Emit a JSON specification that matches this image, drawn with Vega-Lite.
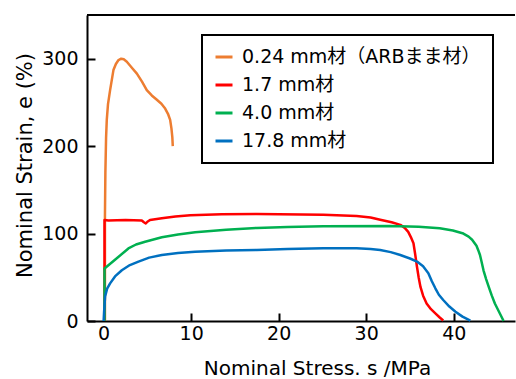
{
  "$schema": "https://vega.github.io/schema/vega-lite/v6.json",
  "width": 428,
  "height": 306,
  "autosize": {"type": "none"},
  "padding": {"left": 87, "top": 15, "right": 1, "bottom": 58},
  "config": {
    "view": {"stroke": null},
    "font": "DejaVu Sans, Noto Sans CJK JP",
    "legend": {"strokeWidth": 2}
  },
  "datasets": {
    "curves": [
      {"series": "0.24 mm材（ARBまま材）", "i": 1, "s": 0.15, "e": 0},
      {"series": "0.24 mm材（ARBまま材）", "i": 2, "s": 0.15, "e": 120},
      {"series": "0.24 mm材（ARBまま材）", "i": 3, "s": 0.2, "e": 170},
      {"series": "0.24 mm材（ARBまま材）", "i": 4, "s": 0.28, "e": 210},
      {"series": "0.24 mm材（ARBまま材）", "i": 5, "s": 0.36, "e": 230},
      {"series": "0.24 mm材（ARBまま材）", "i": 6, "s": 0.5, "e": 248},
      {"series": "0.24 mm材（ARBまま材）", "i": 7, "s": 0.74, "e": 264},
      {"series": "0.24 mm材（ARBまま材）", "i": 8, "s": 1.12, "e": 287},
      {"series": "0.24 mm材（ARBまま材）", "i": 9, "s": 1.4, "e": 294},
      {"series": "0.24 mm材（ARBまま材）", "i": 10, "s": 1.7, "e": 298.5},
      {"series": "0.24 mm材（ARBまま材）", "i": 11, "s": 2.0, "e": 300},
      {"series": "0.24 mm材（ARBまま材）", "i": 12, "s": 2.3, "e": 299.3},
      {"series": "0.24 mm材（ARBまま材）", "i": 13, "s": 2.65, "e": 296.5},
      {"series": "0.24 mm材（ARBまま材）", "i": 14, "s": 3.2, "e": 290},
      {"series": "0.24 mm材（ARBまま材）", "i": 15, "s": 3.8, "e": 283},
      {"series": "0.24 mm材（ARBまま材）", "i": 16, "s": 4.4, "e": 273.5},
      {"series": "0.24 mm材（ARBまま材）", "i": 17, "s": 4.93, "e": 264},
      {"series": "0.24 mm材（ARBまま材）", "i": 18, "s": 5.5, "e": 258},
      {"series": "0.24 mm材（ARBまま材）", "i": 19, "s": 6.08, "e": 253},
      {"series": "0.24 mm材（ARBまま材）", "i": 20, "s": 6.6, "e": 248.5},
      {"series": "0.24 mm材（ARBまま材）", "i": 21, "s": 7.03, "e": 243},
      {"series": "0.24 mm材（ARBまま材）", "i": 22, "s": 7.35, "e": 237},
      {"series": "0.24 mm材（ARBまま材）", "i": 23, "s": 7.6, "e": 230},
      {"series": "0.24 mm材（ARBまま材）", "i": 24, "s": 7.75, "e": 220},
      {"series": "0.24 mm材（ARBまま材）", "i": 25, "s": 7.85, "e": 210},
      {"series": "0.24 mm材（ARBまま材）", "i": 26, "s": 7.9, "e": 200},

      {"series": "1.7 mm材", "i": 1, "s": 0.1, "e": 0},
      {"series": "1.7 mm材", "i": 2, "s": 0.1, "e": 115.5},
      {"series": "1.7 mm材", "i": 3, "s": 0.55, "e": 115},
      {"series": "1.7 mm材", "i": 4, "s": 2.5, "e": 115.5},
      {"series": "1.7 mm材", "i": 5, "s": 4.36, "e": 115},
      {"series": "1.7 mm材", "i": 6, "s": 4.6, "e": 113},
      {"series": "1.7 mm材", "i": 7, "s": 4.82, "e": 111.5},
      {"series": "1.7 mm材", "i": 8, "s": 5.0, "e": 113.5},
      {"series": "1.7 mm材", "i": 9, "s": 5.3, "e": 115.5},
      {"series": "1.7 mm材", "i": 10, "s": 6.65, "e": 117.5},
      {"series": "1.7 mm材", "i": 11, "s": 8.2, "e": 119.5},
      {"series": "1.7 mm材", "i": 12, "s": 9.9, "e": 121},
      {"series": "1.7 mm材", "i": 13, "s": 13.5, "e": 122.2},
      {"series": "1.7 mm材", "i": 14, "s": 17.5, "e": 122.4},
      {"series": "1.7 mm材", "i": 15, "s": 25.1, "e": 121.6},
      {"series": "1.7 mm材", "i": 16, "s": 28.9, "e": 120},
      {"series": "1.7 mm材", "i": 17, "s": 30.5, "e": 118.3},
      {"series": "1.7 mm材", "i": 18, "s": 31.6, "e": 115.8},
      {"series": "1.7 mm材", "i": 19, "s": 32.9, "e": 113},
      {"series": "1.7 mm材", "i": 20, "s": 33.9, "e": 110},
      {"series": "1.7 mm材", "i": 21, "s": 34.4, "e": 106.5},
      {"series": "1.7 mm材", "i": 22, "s": 34.8, "e": 102},
      {"series": "1.7 mm材", "i": 23, "s": 35.1, "e": 96},
      {"series": "1.7 mm材", "i": 24, "s": 35.4, "e": 89},
      {"series": "1.7 mm材", "i": 25, "s": 35.6, "e": 76},
      {"series": "1.7 mm材", "i": 26, "s": 35.8, "e": 62},
      {"series": "1.7 mm材", "i": 27, "s": 36.0, "e": 49.5},
      {"series": "1.7 mm材", "i": 28, "s": 36.2, "e": 39},
      {"series": "1.7 mm材", "i": 29, "s": 36.5, "e": 29},
      {"series": "1.7 mm材", "i": 30, "s": 36.9, "e": 20},
      {"series": "1.7 mm材", "i": 31, "s": 37.4, "e": 13.5},
      {"series": "1.7 mm材", "i": 32, "s": 37.9, "e": 8.8},
      {"series": "1.7 mm材", "i": 33, "s": 38.4, "e": 4},
      {"series": "1.7 mm材", "i": 34, "s": 38.8, "e": 0.5},

      {"series": "4.0 mm材", "i": 1, "s": 0.1, "e": 0},
      {"series": "4.0 mm材", "i": 2, "s": 0.1, "e": 60},
      {"series": "4.0 mm材", "i": 3, "s": 1.3, "e": 70},
      {"series": "4.0 mm材", "i": 4, "s": 2.83, "e": 83},
      {"series": "4.0 mm材", "i": 5, "s": 3.7, "e": 87.5},
      {"series": "4.0 mm材", "i": 6, "s": 4.74, "e": 90.7},
      {"series": "4.0 mm材", "i": 7, "s": 6.65, "e": 95.7},
      {"series": "4.0 mm材", "i": 8, "s": 8.5, "e": 99},
      {"series": "4.0 mm材", "i": 9, "s": 10.45, "e": 101.4},
      {"series": "4.0 mm材", "i": 10, "s": 14, "e": 104.3},
      {"series": "4.0 mm材", "i": 11, "s": 17.5, "e": 106.5},
      {"series": "4.0 mm材", "i": 12, "s": 21, "e": 107.6},
      {"series": "4.0 mm材", "i": 13, "s": 25.1, "e": 108.3},
      {"series": "4.0 mm材", "i": 14, "s": 32.7, "e": 108.6},
      {"series": "4.0 mm材", "i": 15, "s": 36, "e": 107.8},
      {"series": "4.0 mm材", "i": 16, "s": 38.4, "e": 106},
      {"series": "4.0 mm材", "i": 17, "s": 39.9, "e": 103.5},
      {"series": "4.0 mm材", "i": 18, "s": 41.1, "e": 100},
      {"series": "4.0 mm材", "i": 19, "s": 41.7, "e": 96.5},
      {"series": "4.0 mm材", "i": 20, "s": 42.1, "e": 93},
      {"series": "4.0 mm材", "i": 21, "s": 42.6, "e": 86},
      {"series": "4.0 mm材", "i": 22, "s": 42.8, "e": 81},
      {"series": "4.0 mm材", "i": 23, "s": 43.0, "e": 75.5},
      {"series": "4.0 mm材", "i": 24, "s": 43.2, "e": 67},
      {"series": "4.0 mm材", "i": 25, "s": 43.4, "e": 58},
      {"series": "4.0 mm材", "i": 26, "s": 43.7, "e": 48},
      {"series": "4.0 mm材", "i": 27, "s": 44.0, "e": 39},
      {"series": "4.0 mm材", "i": 28, "s": 44.35, "e": 29},
      {"series": "4.0 mm材", "i": 29, "s": 44.7, "e": 20},
      {"series": "4.0 mm材", "i": 30, "s": 45.2, "e": 10},
      {"series": "4.0 mm材", "i": 31, "s": 45.7, "e": 0},

      {"series": "17.8 mm材", "i": 1, "s": 0.0, "e": 0},
      {"series": "17.8 mm材", "i": 2, "s": 0.05, "e": 10},
      {"series": "17.8 mm材", "i": 3, "s": 0.17, "e": 28},
      {"series": "17.8 mm材", "i": 4, "s": 0.4, "e": 37},
      {"series": "17.8 mm材", "i": 5, "s": 0.74, "e": 43},
      {"series": "17.8 mm材", "i": 6, "s": 1.3, "e": 51},
      {"series": "17.8 mm材", "i": 7, "s": 2.08, "e": 58},
      {"series": "17.8 mm材", "i": 8, "s": 3.0, "e": 64},
      {"series": "17.8 mm材", "i": 9, "s": 3.98, "e": 68},
      {"series": "17.8 mm材", "i": 10, "s": 5.2, "e": 72.5},
      {"series": "17.8 mm材", "i": 11, "s": 6.65, "e": 75.5},
      {"series": "17.8 mm材", "i": 12, "s": 8.5, "e": 77.8},
      {"series": "17.8 mm材", "i": 13, "s": 10.45, "e": 79.3},
      {"series": "17.8 mm材", "i": 14, "s": 14, "e": 80.5},
      {"series": "17.8 mm材", "i": 15, "s": 17.5, "e": 81.2},
      {"series": "17.8 mm材", "i": 16, "s": 21, "e": 82.4},
      {"series": "17.8 mm材", "i": 17, "s": 25.1, "e": 83.2},
      {"series": "17.8 mm材", "i": 18, "s": 28.9, "e": 83.2},
      {"series": "17.8 mm材", "i": 19, "s": 30.5, "e": 82.3},
      {"series": "17.8 mm材", "i": 20, "s": 31.6, "e": 81.2},
      {"series": "17.8 mm材", "i": 21, "s": 32.8, "e": 78.8},
      {"series": "17.8 mm材", "i": 22, "s": 33.9, "e": 75.5},
      {"series": "17.8 mm材", "i": 23, "s": 35.0, "e": 71.5},
      {"series": "17.8 mm材", "i": 24, "s": 35.8, "e": 68},
      {"series": "17.8 mm材", "i": 25, "s": 36.5, "e": 62.5},
      {"series": "17.8 mm材", "i": 26, "s": 37.1, "e": 54.6},
      {"series": "17.8 mm材", "i": 27, "s": 37.5, "e": 45.5},
      {"series": "17.8 mm材", "i": 28, "s": 37.9, "e": 37.4},
      {"series": "17.8 mm材", "i": 29, "s": 38.3, "e": 30},
      {"series": "17.8 mm材", "i": 30, "s": 38.8, "e": 24},
      {"series": "17.8 mm材", "i": 31, "s": 39.5, "e": 16.5},
      {"series": "17.8 mm材", "i": 32, "s": 40.2, "e": 10.6},
      {"series": "17.8 mm材", "i": 33, "s": 41.0, "e": 5},
      {"series": "17.8 mm材", "i": 34, "s": 41.9, "e": 0.5}
    ]
  },
  "layer": [
    {
      "data": {"values": [{}]},
      "mark": {"type": "rule", "color": "black", "strokeWidth": 2},
      "encoding": {"y": {"datum": 350, "type": "quantitative"}}
    },
    {
      "data": {"name": "curves"},
      "mark": {"type": "line", "strokeWidth": 2.5, "interpolate": "linear", "strokeJoin": "round"},
      "encoding": {
        "x": {
          "field": "s", "type": "quantitative",
          "scale": {"domain": [-1.9, 47], "nice": false, "zero": false},
          "axis": {
            "values": [0, 10, 20, 30, 40], "grid": false,
            "title": "Nominal Stress. s /MPa",
            "titleFontSize": 20, "titleFontWeight": "normal", "titleColor": "black",
            "titleX": 230, "titlePadding": 15,
            "labelFontSize": 19, "labelColor": "black", "labelPadding": 11,
            "tickSize": -8, "tickWidth": 2, "tickColor": "black",
            "domainWidth": 2, "domainColor": "black"
          }
        },
        "y": {
          "field": "e", "type": "quantitative",
          "scale": {"domain": [0, 350], "nice": false},
          "axis": {
            "values": [0, 100, 200, 300], "grid": false,
            "title": "Nominal Strain, e (%)",
            "titleFontSize": 21, "titleFontWeight": "normal", "titleColor": "black",
            "titleY": 150, "titleX": -52,
            "labelFontSize": 19, "labelColor": "black", "labelPadding": 17,
            "tickSize": -8, "tickWidth": 2, "tickColor": "black",
            "domainWidth": 2, "domainColor": "black"
          }
        },
        "color": {
          "field": "series", "type": "nominal",
          "scale": {
            "domain": ["0.24 mm材（ARBまま材）", "1.7 mm材", "4.0 mm材", "17.8 mm材"],
            "range": ["#ED7D31", "#FF0000", "#00B050", "#0070C0"]
          },
          "legend": {
            "orient": "none", "legendX": 115, "legendY": 20, "title": null,
            "symbolType": "stroke", "symbolSize": 289, "symbolStrokeWidth": 3,
            "labelFontSize": 19, "labelColor": "black", "labelLimit": 400,
            "strokeColor": "black", "fillColor": "white",
            "padding": 12, "rowPadding": 8, "labelOffset": 8
          }
        },
        "order": {"field": "i", "type": "quantitative"}
      }
    }
  ]
}
